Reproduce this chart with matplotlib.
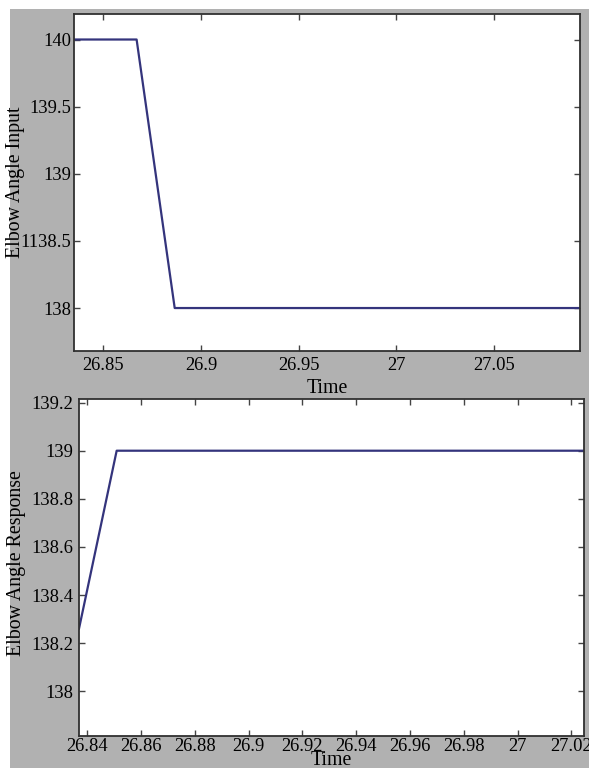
import matplotlib
matplotlib.use("Agg")
import matplotlib.pyplot as plt
from matplotlib.patches import Rectangle

# Data
time_input = [26.835, 26.867, 26.8865, 27.094]
angle_input = [140, 140, 138, 138]
input_yticks = [140, 139.5, 139, 138.5, 138]
input_yticklabels = ["140", "139.5", "139", "1138.5", "138"]
input_xticks = [26.85, 26.9, 26.95, 27.0, 27.05]
input_xticklabels = ["26.85", "26.9", "26.95", "27", "27.05"]

time_resp = [26.837, 26.851, 27.0245]
angle_resp = [138.26, 139, 139]
resp_yticks = [139.2, 139.0, 138.8, 138.6, 138.4, 138.2, 138.0]
resp_yticklabels = ["139.2", "139", "138.8", "138.6", "138.4", "138.2", "138"]
resp_xticks = [26.84, 26.86, 26.88, 26.9, 26.92, 26.94, 26.96, 26.98, 27.0, 27.02]
resp_xticklabels = ["26.84", "26.86", "26.88", "26.9", "26.92", "26.94",
                    "26.96", "26.98", "27", "27.02"]

plt.rcParams['font.family'] = ['Liberation Serif', 'DejaVu Serif']

W, H = 589, 768
fig = plt.figure(figsize=(W / 100, H / 100), dpi=100, facecolor='white')
fig.patches.append(Rectangle((10 / W, 0), 1 - 10 / W, 1 - 9 / H,
                             transform=fig.transFigure, facecolor='#b1b1b1',
                             edgecolor='none', zorder=-10))

FS = 13.3
LFS = 14.3
LINE = '#34347c'
SPINE = '#303030'


def style(ax, xpad=4, ypad=4):
    ax.set_facecolor('white')
    for s in ax.spines.values():
        s.set_color(SPINE)
        s.set_linewidth(1.3)
    ax.tick_params(direction='in', length=4, width=1, color='#444444',
                   top=True, right=True, labelsize=FS)
    ax.tick_params(axis='x', pad=xpad)
    ax.tick_params(axis='y', pad=ypad)


def px_rect(l, t, r, b):
    return [l / W, 1 - b / H, (r - l) / W, (b - t) / H]


ax1 = fig.add_axes(px_rect(74.3, 14, 580, 351))
ax1.plot(time_input, angle_input, color=LINE, lw=1.6)
ax1.set_xlim(26.8351, 27.094)
ax1.set_ylim(137.68, 140.19)
ax1.set_yticks(input_yticks)
ax1.set_yticklabels(input_yticklabels)
ax1.set_xticks(input_xticks)
ax1.set_xticklabels(input_xticklabels)
style(ax1, xpad=4, ypad=2)
ax1.set_xlabel("Time", fontsize=LFS, labelpad=4)

ax2 = fig.add_axes(px_rect(79, 399, 583.5, 735.7))
ax2.plot(time_resp, angle_resp, color=LINE, lw=1.6)
ax2.set_xlim(26.837, 27.0245)
ax2.set_ylim(137.815, 139.215)
ax2.set_yticks(resp_yticks)
ax2.set_yticklabels(resp_yticklabels)
ax2.set_xticks(resp_xticks)
ax2.set_xticklabels(resp_xticklabels)
style(ax2, xpad=2, ypad=4)
ax2.set_xlabel("Time", fontsize=LFS, labelpad=-3)

fig.text(16 / W, 1 - 182 / H, "Elbow Angle Input", rotation=90,
         ha='center', va='center', fontsize=LFS)
fig.text(16.5 / W, 1 - 563 / H, "Elbow Angle Response", rotation=90,
         ha='center', va='center', fontsize=LFS)

fig.savefig("out.png", dpi=100, facecolor='white')
